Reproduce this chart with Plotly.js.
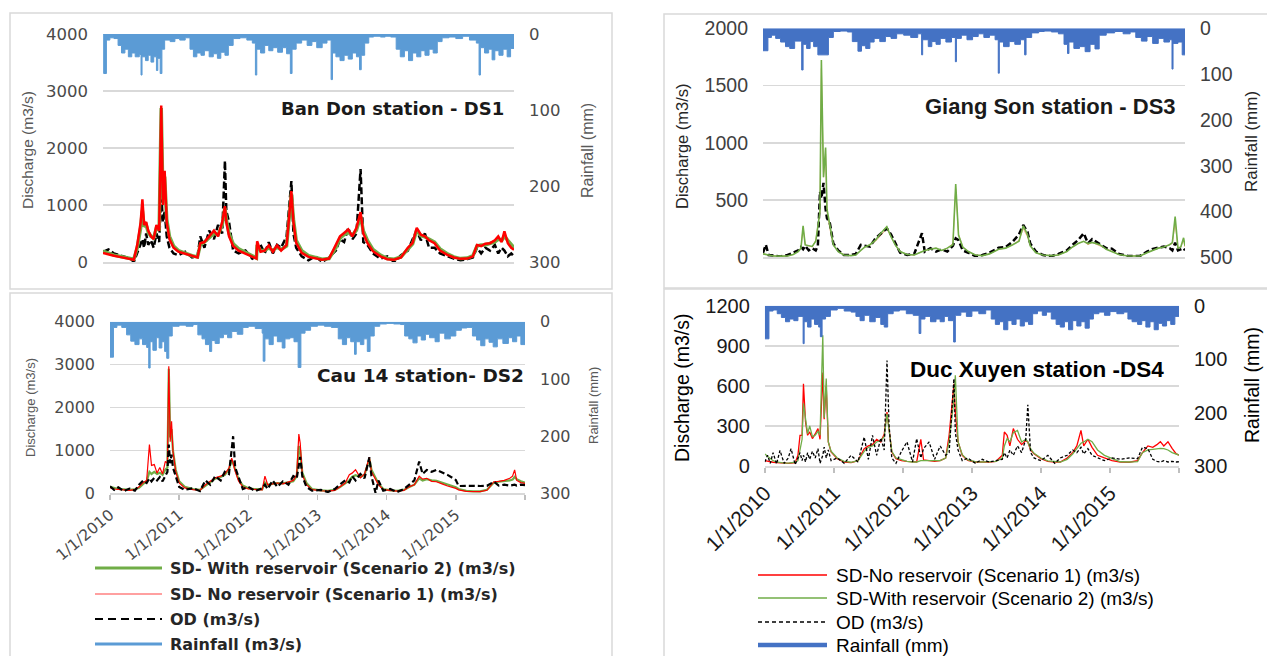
<!DOCTYPE html>
<html><head><meta charset="utf-8">
<script src="https://cdn.plot.ly/plotly-3.0.1.min.js"></script>
<style>html,body{margin:0;padding:0;background:#fff}#chart{width:1267px;height:656px}</style>
</head><body><div id="chart"></div>
<script>
// ---------- tick labels / names ----------
const yearTicks = [2010, 2011, 2012, 2013, 2014, 2015, 2016];
const yearTickText = ['1/1/2010', '1/1/2011', '1/1/2012', '1/1/2013', '1/1/2014', '1/1/2015', ''];
const stationTitles = ['Ban Don station - DS1', 'Cau 14 station- DS2', 'Giang Son station - DS3', 'Duc Xuyen station -DS4'];
const legendA = ['SD- With reservoir (Scenario 2) (m3/s)', 'SD- No reservoir (Scenario 1) (m3/s)', 'OD (m3/s)', 'Rainfall (m3/s)'];
const legendB = ['SD-No reservoir (Scenario 1) (m3/s)', 'SD-With reservoir (Scenario 2) (m3/s)', 'OD (m3/s)', 'Rainfall (mm)'];
const dischargeTicks1 = [0, 1000, 2000, 3000, 4000];
const dischargeTicks3 = [0, 500, 1000, 1500, 2000];
const dischargeTicks4 = [0, 300, 600, 900, 1200];
const rainTicks300 = [0, 100, 200, 300];
const rainTicks500 = [0, 100, 200, 300, 400, 500];

// ---------- discharge rows: [year, SD no reservoir, SD with reservoir, OD] ----------
const banDonQ = [
[2010.00,160,190,180],[2010.08,130,150,220],[2010.16,110,120,150],[2010.24,90,100,120],[2010.32,70,80,90],[2010.40,50,60,60],[2010.45,40,50,0],[2010.50,300,250,150],[2010.55,700,600,300],[2010.575,1100,900,400],[2010.60,650,620,250],[2010.63,700,650,500],[2010.66,550,520,300],[2010.70,450,450,380],[2010.74,400,420,250],[2010.78,650,600,500],[2010.82,550,580,350],[2010.85,2745,2700,1200],[2010.875,1000,1100,700],[2010.90,1600,1500,900],[2010.93,700,750,450],[2010.97,400,450,250],[2011.03,250,280,150],[2011.10,180,200,120],[2011.20,140,150,180],[2011.30,100,110,80],[2011.38,80,90,100],[2011.42,330,300,450],[2011.48,350,350,250],[2011.55,450,430,550],[2011.62,550,500,400],[2011.68,450,480,650],[2011.74,700,650,500],[2011.78,980,950,1775],[2011.80,700,750,900],[2011.84,450,500,700],[2011.90,280,320,200],[2011.98,200,230,150],[2012.08,150,170,200],[2012.18,90,110,60],[2012.24,60,70,100],[2012.25,365,300,250],[2012.30,180,200,300],[2012.36,200,200,150],[2012.42,290,250,350],[2012.48,180,200,150],[2012.54,290,260,300],[2012.60,200,220,250],[2012.68,300,280,450],[2012.75,1245,1200,1420],[2012.78,700,750,500],[2012.82,335,380,250],[2012.90,160,200,100],[2013.00,90,110,30],[2013.10,70,80,100],[2013.20,40,50,0],[2013.30,60,60,80],[2013.40,300,250,200],[2013.46,450,420,400],[2013.52,510,480,350],[2013.58,570,520,600],[2013.64,450,470,400],[2013.70,600,560,500],[2013.76,875,800,1630],[2013.80,500,550,350],[2013.86,335,380,300],[2013.94,190,220,150],[2014.05,100,120,60],[2014.15,50,60,100],[2014.25,40,50,0],[2014.35,80,90,120],[2014.45,250,220,200],[2014.52,335,320,400],[2014.58,600,560,550],[2014.64,480,460,380],[2014.70,450,440,500],[2014.76,380,400,250],[2014.84,330,350,250],[2014.92,200,230,150],[2015.02,130,150,100],[2015.12,80,90,60],[2015.22,55,60,30],[2015.32,60,70,50],[2015.40,100,110,80],[2015.46,300,280,250],[2015.52,280,300,150],[2015.58,320,300,250],[2015.65,330,320,200],[2015.72,380,350,300],[2015.77,450,400,150],[2015.82,350,380,250],[2015.86,540,450,200],[2015.91,330,380,100],[2015.96,250,300,150],[2016.00,215,250,100]
];
const cau14Q = [
[2010.00,130,150,160],[2010.06,100,120,80],[2010.12,90,100,140],[2010.20,80,90,50],[2010.28,70,80,110],[2010.36,85,90,60],[2010.42,150,130,200],[2010.48,250,220,300],[2010.53,300,280,240],[2010.57,1135,500,350],[2010.60,650,450,280],[2010.64,670,500,360],[2010.68,470,450,300],[2010.72,600,480,380],[2010.76,450,430,280],[2010.80,745,550,400],[2010.83,700,600,500],[2010.85,2960,2900,1135],[2010.87,1200,1300,700],[2010.89,1680,1500,900],[2010.91,980,1000,600],[2010.95,510,550,400],[2011.00,240,280,150],[2011.08,125,150,80],[2011.20,85,100,120],[2011.30,70,80,50],[2011.38,200,180,300],[2011.45,280,260,200],[2011.52,360,340,400],[2011.60,400,380,300],[2011.66,450,430,500],[2011.72,590,560,450],[2011.76,820,780,1000],[2011.78,700,700,1330],[2011.81,510,550,600],[2011.86,280,320,350],[2011.92,150,180,100],[2012.00,100,120,150],[2012.10,85,95,50],[2012.20,80,90,120],[2012.24,400,250,200],[2012.28,200,200,100],[2012.35,220,220,300],[2012.42,240,240,150],[2012.50,220,230,280],[2012.58,260,250,200],[2012.65,300,280,400],[2012.70,435,400,350],[2012.73,1380,1100,700],[2012.75,1170,1000,850],[2012.78,435,480,400],[2012.84,200,240,150],[2012.92,85,100,60],[2013.05,60,70,80],[2013.15,50,60,30],[2013.25,70,80,100],[2013.32,150,140,200],[2013.40,240,230,300],[2013.46,435,300,250],[2013.50,470,380,400],[2013.55,550,420,300],[2013.62,360,380,450],[2013.68,450,430,350],[2013.73,700,700,700],[2013.75,840,800,840],[2013.78,500,550,400],[2013.84,330,350,0],[2013.88,200,230,300],[2013.95,85,100,60],[2014.05,60,70,100],[2014.15,50,60,30],[2014.25,70,80,100],[2014.32,150,140,200],[2014.40,200,200,300],[2014.47,400,350,740],[2014.52,330,300,450],[2014.58,350,330,545],[2014.65,280,300,500],[2014.72,270,290,545],[2014.80,220,250,480],[2014.88,170,200,430],[2015.00,115,140,310],[2015.04,80,100,170],[2015.15,45,55,175],[2015.25,40,45,165],[2015.35,40,45,170],[2015.45,70,80,175],[2015.55,270,250,270],[2015.62,280,270,180],[2015.70,300,280,200],[2015.78,350,300,180],[2015.82,400,320,190],[2015.85,545,380,200],[2015.88,300,330,180],[2015.94,250,280,200],[2016.00,230,250,190]
];
const giangSonQ = [
[2010.00,30,30,40],[2010.04,25,26,110],[2010.08,20,20,20],[2010.15,12,12,15],[2010.25,10,10,8],[2010.35,12,12,20],[2010.43,25,25,40],[2010.50,50,50,60],[2010.54,80,80,90],[2010.57,260,274,70],[2010.60,110,108,100],[2010.65,100,100,60],[2010.70,90,95,80],[2010.75,150,140,60],[2010.78,282,282,100],[2010.81,400,400,573],[2010.83,1650,1723,515],[2010.86,700,700,650],[2010.89,900,958,420],[2010.91,400,420,340],[2010.95,250,282,300],[2011.00,110,108,120],[2011.07,50,50,60],[2011.15,25,20,20],[2011.25,15,15,20],[2011.32,20,20,30],[2011.39,60,60,108],[2011.45,90,90,100],[2011.52,110,110,93],[2011.60,140,150,166],[2011.66,180,200,200],[2011.76,250,268,253],[2011.82,180,180,200],[2011.88,110,108,120],[2011.95,50,50,40],[2012.05,25,25,20],[2012.15,20,20,30],[2012.26,50,50,210],[2012.30,60,60,50],[2012.38,70,70,80],[2012.46,80,80,50],[2012.54,60,60,70],[2012.62,80,80,50],[2012.70,120,110,100],[2012.74,600,640,166],[2012.78,200,195,150],[2012.84,90,90,60],[2012.92,50,50,40],[2013.02,20,20,10],[2013.12,15,15,20],[2013.22,30,30,40],[2013.35,70,70,84],[2013.45,80,80,90],[2013.55,110,110,137],[2013.64,150,140,200],[2013.70,250,274,282],[2013.76,180,200,224],[2013.80,100,100,120],[2013.88,40,40,50],[2013.98,20,20,20],[2014.10,15,15,10],[2014.20,20,20,30],[2014.32,50,50,60],[2014.40,90,90,108],[2014.48,120,120,150],[2014.56,140,140,210],[2014.62,110,120,122],[2014.68,130,130,158],[2014.79,100,110,114],[2014.88,70,70,80],[2014.96,50,50,76],[2015.06,25,25,30],[2015.19,12,12,12],[2015.36,12,12,12],[2015.46,40,40,50],[2015.53,60,60,70],[2015.62,80,80,85],[2015.70,90,90,93],[2015.78,110,110,80],[2015.82,120,128,60],[2015.86,300,355,128],[2015.90,80,80,60],[2015.94,90,90,70],[2015.98,150,170,80],[2016.00,90,100,60]
];
const ducXuyenQ = [
[2010.00,40,90,30],[2010.04,35,75,80],[2010.08,30,55,20],[2010.12,28,40,100],[2010.17,25,30,15],[2010.22,22,25,117],[2010.28,20,22,20],[2010.34,20,22,60],[2010.38,22,25,130],[2010.44,25,28,10],[2010.48,80,40,60],[2010.51,230,120,100],[2010.54,230,200,40],[2010.56,616,470,80],[2010.59,330,330,30],[2010.62,230,240,100],[2010.65,255,300,50],[2010.69,205,220,110],[2010.73,240,230,60],[2010.77,280,260,130],[2010.80,200,230,20],[2010.84,700,978,80],[2010.86,350,360,142],[2010.89,600,654,60],[2010.92,180,180,120],[2010.96,105,110,40],[2011.05,55,60,60],[2011.15,30,35,20],[2011.25,25,28,80],[2011.35,40,40,30],[2011.44,130,110,217],[2011.50,150,140,50],[2011.56,160,150,230],[2011.62,200,180,80],[2011.68,180,190,210],[2011.73,240,220,120],[2011.77,404,390,790],[2011.80,280,280,304],[2011.84,105,110,60],[2011.90,55,60,20],[2011.98,40,45,110],[2012.06,35,35,180],[2012.14,30,30,30],[2012.20,30,30,205],[2012.26,200,40,60],[2012.30,45,40,130],[2012.38,40,35,180],[2012.46,35,35,50],[2012.54,40,40,150],[2012.62,60,60,80],[2012.67,230,180,100],[2012.74,616,500,654],[2012.76,400,679,250],[2012.80,180,180,120],[2012.86,80,85,40],[2012.94,42,45,60],[2013.05,30,32,20],[2013.15,28,30,50],[2013.25,30,32,30],[2013.35,35,35,40],[2013.44,80,60,50],[2013.47,255,150,100],[2013.51,230,205,60],[2013.55,150,180,120],[2013.60,280,250,80],[2013.66,200,267,150],[2013.72,160,180,100],[2013.78,190,200,200],[2013.81,180,180,459],[2013.85,120,130,100],[2013.90,92,95,60],[2014.00,55,60,40],[2014.10,35,38,80],[2014.20,30,32,20],[2014.28,30,30,60],[2014.38,60,50,80],[2014.46,100,90,120],[2014.52,150,130,100],[2014.58,267,170,140],[2014.62,150,180,90],[2014.68,200,200,130],[2014.74,140,182,80],[2014.82,80,120,60],[2014.92,60,80,40],[2015.03,40,57,60],[2015.15,30,32,50],[2015.28,28,30,60],[2015.40,40,32,55],[2015.47,100,100,140],[2015.55,150,120,130],[2015.62,140,125,50],[2015.68,160,130,35],[2015.73,182,132,30],[2015.78,150,130,40],[2015.84,182,120,30],[2015.90,132,100,35],[2015.96,90,90,30],[2016.00,82,82,32]
];

// ---------- rainfall rows: [year, mm] ----------
const banDonRain = [
[2010.00,0],[2010.01,52],[2010.05,8],[2010.10,5],[2010.16,6],[2010.22,15],[2010.27,25],[2010.32,20],[2010.37,30],[2010.42,25],[2010.47,30],[2010.53,27],[2010.555,54],[2010.57,30],[2010.62,35],[2010.66,28],[2010.70,37],[2010.74,30],[2010.78,48],[2010.80,32],[2010.835,52],[2010.86,20],[2010.90,8],[2010.98,10],[2011.05,6],[2011.12,8],[2011.20,5],[2011.27,20],[2011.32,30],[2011.37,25],[2011.43,28],[2011.48,22],[2011.55,30],[2011.61,26],[2011.67,32],[2011.72,24],[2011.78,28],[2011.83,15],[2011.90,6],[2012.00,5],[2012.10,8],[2012.18,12],[2012.225,54],[2012.245,20],[2012.30,25],[2012.36,15],[2012.42,22],[2012.48,18],[2012.55,24],[2012.62,18],[2012.68,26],[2012.735,52],[2012.76,20],[2012.82,12],[2012.90,8],[2012.98,15],[2013.05,10],[2013.12,18],[2013.20,12],[2013.27,8],[2013.33,60],[2013.35,25],[2013.40,30],[2013.46,35],[2013.52,28],[2013.58,33],[2013.64,25],[2013.70,30],[2013.745,47],[2013.77,28],[2013.82,12],[2013.88,4],[2013.95,3],[2014.05,4],[2014.12,3],[2014.20,4],[2014.28,20],[2014.34,30],[2014.40,22],[2014.46,35],[2014.52,25],[2014.58,30],[2014.64,22],[2014.70,28],[2014.76,20],[2014.82,25],[2014.88,10],[2014.95,5],[2015.05,4],[2015.15,6],[2015.25,3],[2015.35,8],[2015.45,12],[2015.49,54],[2015.51,18],[2015.57,25],[2015.63,20],[2015.68,34],[2015.72,22],[2015.78,28],[2015.84,20],[2015.90,30],[2015.95,19],[2016.00,19]
];
const cau14Rain = [
[2010.00,62],[2010.05,10],[2010.10,6],[2010.17,10],[2010.24,23],[2010.30,34],[2010.36,40],[2010.42,30],[2010.47,40],[2010.53,45],[2010.56,81],[2010.58,35],[2010.62,50],[2010.67,28],[2010.71,46],[2010.75,35],[2010.79,52],[2010.82,64],[2010.85,25],[2010.90,8],[2011.00,6],[2011.10,8],[2011.20,5],[2011.27,23],[2011.33,30],[2011.38,40],[2011.44,52],[2011.47,33],[2011.52,38],[2011.58,28],[2011.64,22],[2011.70,28],[2011.76,17],[2011.84,22],[2011.92,10],[2012.00,8],[2012.10,12],[2012.20,20],[2012.215,69],[2012.24,30],[2012.30,40],[2012.36,25],[2012.42,35],[2012.49,46],[2012.53,30],[2012.60,28],[2012.66,35],[2012.72,80],[2012.76,20],[2012.82,15],[2012.90,8],[2013.00,6],[2013.10,8],[2013.20,10],[2013.30,30],[2013.36,40],[2013.42,28],[2013.48,35],[2013.535,57],[2013.56,35],[2013.62,40],[2013.67,30],[2013.72,52],[2013.76,25],[2013.82,8],[2013.90,4],[2014.00,3],[2014.10,4],[2014.20,5],[2014.26,25],[2014.32,30],[2014.38,37],[2014.44,25],[2014.50,32],[2014.56,22],[2014.62,28],[2014.70,35],[2014.76,20],[2014.84,30],[2014.92,25],[2015.00,15],[2015.08,11],[2015.16,10],[2015.24,25],[2015.30,32],[2015.36,42],[2015.42,30],[2015.48,36],[2015.54,44],[2015.60,30],[2015.68,38],[2015.76,28],[2015.82,35],[2015.88,25],[2015.94,40],[2016.00,40]
];
const giangSonRain = [
[2010.00,49],[2010.07,20],[2010.12,15],[2010.18,22],[2010.25,30],[2010.32,40],[2010.38,44],[2010.45,28],[2010.55,91],[2010.57,35],[2010.62,44],[2010.67,29],[2010.72,40],[2010.78,58],[2010.93,20],[2011.00,7],[2011.10,6],[2011.20,8],[2011.27,29],[2011.35,50],[2011.40,38],[2011.46,44],[2011.52,30],[2011.58,22],[2011.66,29],[2011.74,18],[2011.82,22],[2011.90,12],[2012.00,15],[2012.10,20],[2012.20,12],[2012.255,58],[2012.27,25],[2012.35,40],[2012.40,29],[2012.46,35],[2012.52,22],[2012.60,30],[2012.68,20],[2012.735,73],[2012.75,22],[2012.82,15],[2012.90,25],[2012.98,18],[2013.06,12],[2013.14,20],[2013.22,15],[2013.30,25],[2013.345,98],[2013.36,30],[2013.42,40],[2013.50,29],[2013.58,35],[2013.66,25],[2013.72,58],[2013.74,20],[2013.82,10],[2013.92,7],[2014.00,6],[2014.10,8],[2014.20,12],[2014.28,35],[2014.33,55],[2014.35,30],[2014.42,44],[2014.50,40],[2014.58,51],[2014.65,35],[2014.72,45],[2014.78,15],[2014.88,10],[2015.00,7],[2015.12,12],[2015.22,8],[2015.30,20],[2015.38,28],[2015.46,18],[2015.54,33],[2015.62,22],[2015.70,30],[2015.78,25],[2015.815,89],[2015.83,33],[2015.90,30],[2015.96,58],[2016.00,58]
];
const ducXuyenRain = [
[2010.00,62],[2010.06,10],[2010.12,8],[2010.18,15],[2010.24,22],[2010.30,30],[2010.36,25],[2010.42,28],[2010.48,20],[2010.555,71],[2010.57,30],[2010.62,40],[2010.67,25],[2010.72,35],[2010.78,40],[2010.805,58],[2010.83,25],[2010.88,20],[2010.95,8],[2011.05,5],[2011.15,10],[2011.25,12],[2011.32,20],[2011.38,28],[2011.44,18],[2011.52,30],[2011.60,22],[2011.68,35],[2011.73,40],[2011.78,15],[2011.86,10],[2011.95,8],[2012.05,15],[2012.15,18],[2012.235,52],[2012.26,25],[2012.32,20],[2012.40,30],[2012.48,25],[2012.54,30],[2012.60,20],[2012.66,28],[2012.735,68],[2012.76,18],[2012.84,12],[2012.92,20],[2013.00,10],[2013.10,15],[2013.20,8],[2013.28,25],[2013.34,35],[2013.40,30],[2013.46,45],[2013.52,28],[2013.58,35],[2013.64,25],[2013.70,38],[2013.76,30],[2013.82,35],[2013.88,15],[2013.95,10],[2014.02,18],[2014.08,12],[2014.15,25],[2014.22,35],[2014.28,40],[2014.34,30],[2014.40,45],[2014.46,28],[2014.52,38],[2014.58,30],[2014.64,42],[2014.70,25],[2014.76,15],[2014.84,12],[2014.92,18],[2015.00,11],[2015.10,15],[2015.20,12],[2015.26,25],[2015.32,30],[2015.40,35],[2015.46,28],[2015.52,40],[2015.58,30],[2015.64,45],[2015.70,33],[2015.76,38],[2015.82,28],[2015.88,35],[2015.94,20],[2016.00,20]
];

// ---------- geometry helpers (pixels -> paper) ----------
const W = 1267, H = 656;
const px = v => v / W;
const py = v => 1 - v / H;

const panels = [
  {q: banDonQ, rain: banDonRain, box: [10, 13, 612, 289], x: [103, 514], y: [34, 262], yRange: [0, 4000], yTicks: dischargeTicks1, rRange: [300, 0], rTicks: rainTicks300,
   rainColor: '#5B9BD5', red: {c: '#FF0000', w: 2.5}, green: {c: '#70AD47', w: 3.5}, od: {w: 2.5, d: '7px,3px'}, order: ['od', 'green', 'red'],
   tickFont: {family: 'DejaVu Sans', size: 16.5, color: '#4a4a4a'}, showX: false,
   title: {x: 506, y: 108, size: 18, family: 'DejaVu Sans', color: '#1a1a1a'},
   lt: {x: 27, y: 150, size: 15.5, family: 'Liberation Sans', color: '#595959'}, rt: {x: 587, y: 151, size: 16, family: 'Liberation Sans', color: '#595959'}},
  {q: cau14Q, rain: cau14Rain, box: [10, 293, 612, 700], x: [110, 525], y: [321.7, 493.3], yRange: [0, 4000], yTicks: dischargeTicks1, rRange: [300, 0], rTicks: rainTicks300,
   rainColor: '#5B9BD5', red: {c: '#FF0000', w: 1.2}, green: {c: '#70AD47', w: 2.2}, od: {w: 2.2, d: '6px,3px'}, order: ['green', 'red', 'od'],
   tickFont: {family: 'DejaVu Sans', size: 16, color: '#4a4a4a'}, showX: true, xFont: {family: 'DejaVu Sans', size: 15.5, color: '#4a4a4a'}, xAngle: -40,
   title: {x: 526, y: 376, size: 18.5, family: 'DejaVu Sans', color: '#1a1a1a'},
   lt: {x: 30, y: 408, size: 13, family: 'Liberation Sans', color: '#595959'}, rt: {x: 593, y: 406, size: 13, family: 'Liberation Sans', color: '#595959'}},
  {q: giangSonQ, rain: giangSonRain, box: [664, 14, 1280, 288], x: [763, 1185], y: [28.3, 257.3], yRange: [0, 2000], yTicks: dischargeTicks3, rRange: [500, 0], rTicks: rainTicks500,
   rainColor: '#4472C4', red: {c: '#F4B183', w: 1}, green: {c: '#70AD47', w: 1.6}, od: {w: 2.5, d: '6px,3px'}, order: ['red', 'od', 'green'],
   tickFont: {family: 'Liberation Sans', size: 19.5, color: '#404040'}, showX: false,
   title: {x: 1178, y: 107, size: 22, family: 'Liberation Sans', color: '#1a1a1a'},
   lt: {x: 682, y: 146, size: 16.5, family: 'Liberation Sans', color: '#262626'}, rt: {x: 1252, y: 142, size: 17, family: 'Liberation Sans', color: '#262626'}},
  {q: ducXuyenQ, rain: ducXuyenRain, box: [664, 289, 1280, 700], x: [764.8, 1179], y: [305.7, 466], yRange: [0, 1200], yTicks: dischargeTicks4, rRange: [300, 0], rTicks: rainTicks300,
   rainColor: '#4472C4', red: {c: '#FF0000', w: 1.3}, green: {c: '#70AD47', w: 1.3}, od: {w: 1.3, d: '3px,2px'}, order: ['red', 'green', 'od'],
   tickFont: {family: 'Liberation Sans', size: 20, color: '#1a1a1a'}, showX: true, xFont: {family: 'Liberation Sans', size: 21, color: '#1a1a1a'}, xAngle: -45,
   title: {x: 1166, y: 370, size: 22.5, family: 'Liberation Sans', color: '#000000'},
   lt: {x: 682, y: 388, size: 19.5, family: 'Liberation Sans', color: '#000000'}, rt: {x: 1252, y: 385, size: 19.5, family: 'Liberation Sans', color: '#000000'}}
];

const traces = [];
const layout = {
  width: W, height: H, margin: {l: 0, r: 0, t: 0, b: 0},
  paper_bgcolor: '#ffffff', plot_bgcolor: 'rgba(0,0,0,0)', showlegend: false,
  shapes: [], annotations: []
};

panels.forEach((p, i) => {
  const k = i + 1;
  const xa = k === 1 ? 'x' : 'x' + k;
  const ya = k === 1 ? 'y' : 'y' + k;
  const yr = 'y' + (k + 4);
  const xs = p.q.map(r => r[0]);
  // rainfall (hanging from top on reversed secondary axis)
  traces.push({type: 'scatter', mode: 'lines', x: p.rain.map(r => r[0]), y: p.rain.map(r => r[1]),
    xaxis: xa, yaxis: yr, line: {shape: 'hv', color: p.rainColor, width: 1}, fill: 'tozeroy', fillcolor: p.rainColor, hoverinfo: 'skip'});
  const series = {
    red: {y: p.q.map(r => r[1]), line: {color: p.red.c, width: p.red.w}},
    green: {y: p.q.map(r => r[2]), line: {color: p.green.c, width: p.green.w}},
    od: {y: p.q.map(r => r[3]), line: {color: '#000000', width: p.od.w, dash: p.od.d}}
  };
  p.order.forEach(key => {
    traces.push({type: 'scatter', mode: 'lines', x: xs, y: series[key].y, xaxis: xa, yaxis: ya, line: series[key].line});
  });

  const xName = k === 1 ? 'xaxis' : 'xaxis' + k;
  const yName = k === 1 ? 'yaxis' : 'yaxis' + k;
  const yrName = 'yaxis' + (k + 4);
  layout[xName] = {
    domain: [px(p.x[0]), px(p.x[1])], anchor: ya, range: [2010, 2016], showgrid: false, zeroline: false,
    showline: true, linecolor: '#d9d9d9', linewidth: 1.5,
    tickvals: yearTicks, ticktext: yearTickText, showticklabels: p.showX,
    ticks: p.showX ? 'outside' : '', ticklen: 5, tickcolor: '#bfbfbf', tickwidth: 1.5,
    tickangle: p.xAngle || 0, tickfont: p.xFont || p.tickFont
  };
  layout[yName] = {
    domain: [py(p.y[1]), py(p.y[0])], anchor: xa, range: p.yRange, tickvals: p.yTicks,
    showgrid: true, gridcolor: '#d9d9d9', gridwidth: 1.5, zeroline: false, showline: false, ticks: '',
    tickfont: p.tickFont, ticklabelstandoff: 14
  };
  layout[yrName] = {
    overlaying: ya, anchor: xa, side: 'right', range: p.rRange, tickvals: p.rTicks,
    showgrid: false, zeroline: false, showline: false, ticks: '',
    tickfont: p.tickFont, ticklabelstandoff: 14
  };
  // panel frame
  layout.shapes.push({type: 'rect', xref: 'paper', yref: 'paper', x0: px(p.box[0]), x1: px(p.box[2]), y0: py(p.box[3]), y1: py(p.box[1]),
    line: {color: '#d9d9d9', width: 1.5}, layer: 'below'});
  // station title
  layout.annotations.push({xref: 'paper', yref: 'paper', x: px(p.title.x), y: py(p.title.y), xanchor: 'right', yanchor: 'middle',
    text: '<b>' + stationTitles[i] + '</b>', showarrow: false, font: {family: p.title.family, size: p.title.size, color: p.title.color}});
  // axis titles
  layout.annotations.push({xref: 'paper', yref: 'paper', x: px(p.lt.x), y: py(p.lt.y), xanchor: 'center', yanchor: 'middle', textangle: -90,
    text: 'Discharge (m3/s)', showarrow: false, font: {family: p.lt.family, size: p.lt.size, color: p.lt.color}});
  layout.annotations.push({xref: 'paper', yref: 'paper', x: px(p.rt.x), y: py(p.rt.y), xanchor: 'center', yanchor: 'middle', textangle: -90,
    text: 'Rainfall (mm)', showarrow: false, font: {family: p.rt.family, size: p.rt.size, color: p.rt.color}});
});

// ---------- legends (drawn manually to match the original layout) ----------
const legA = {x0: 95, x1: 162, tx: 168, rows: [568, 594, 619, 644],
  styles: [{color: '#70AD47', width: 3}, {color: '#FF8080', width: 1.5}, {color: '#000000', width: 2, dash: '8px,5px'}, {color: '#5B9BD5', width: 3}],
  font: {family: 'DejaVu Sans', size: 16, color: '#262626'}, bold: true};
const legB = {x0: 758, x1: 827, tx: 834, rows: [575, 598, 622, 645],
  styles: [{color: '#FF0000', width: 1.5}, {color: '#70AD47', width: 1.5}, {color: '#000000', width: 1.3, dash: '4px,3px'}, {color: '#4472C4', width: 4.5}],
  font: {family: 'Liberation Sans', size: 19, color: '#000000'}, bold: false};
[[legA, legendA], [legB, legendB]].forEach(([L, names]) => {
  names.forEach((name, j) => {
    layout.shapes.push({type: 'line', xref: 'paper', yref: 'paper', x0: px(L.x0), x1: px(L.x1), y0: py(L.rows[j]), y1: py(L.rows[j]), line: L.styles[j]});
    layout.annotations.push({xref: 'paper', yref: 'paper', x: px(L.tx), y: py(L.rows[j]), xanchor: 'left', yanchor: 'middle',
      text: L.bold ? '<b>' + name + '</b>' : name, showarrow: false, font: L.font});
  });
});

Plotly.newPlot('chart', traces, layout, {displayModeBar: false, staticPlot: true});
</script>
</body></html>
